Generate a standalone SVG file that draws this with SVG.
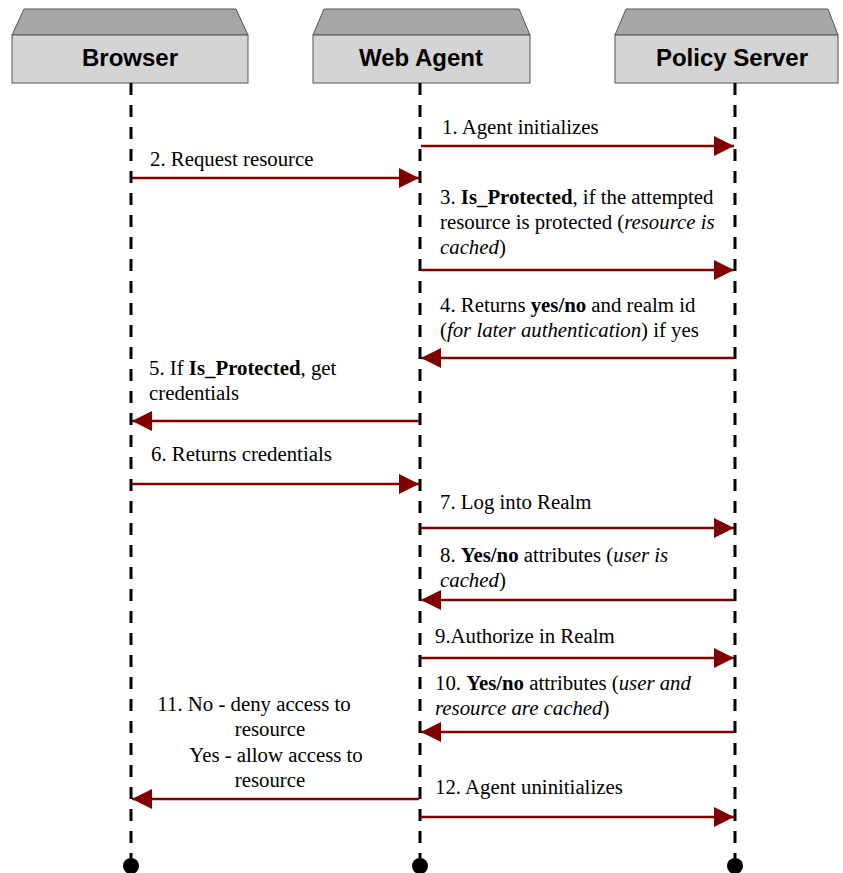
<svg xmlns="http://www.w3.org/2000/svg" width="843" height="873" viewBox="0 0 843 873">
<style>
.hdr-top{fill:#a6a6a6;stroke:#555;stroke-width:1}
.hdr-box{fill:#d4d4d4;stroke:#555;stroke-width:1}
.hdr-txt{font-family:"Liberation Sans",Arial,sans-serif;font-weight:bold;font-size:24px;fill:#000;text-anchor:middle}
.life{stroke:#000;stroke-width:3;stroke-dasharray:12 10;fill:none}
.end{fill:#000}
.msg{stroke:#800000;stroke-width:2.5;fill:none;marker-end:url(#ah)}
.lbl{font-family:"Liberation Serif","Times New Roman",serif;font-size:20.8px;fill:#000}
.c{text-anchor:middle}
.b{font-weight:bold}
.i{font-style:italic}
</style>
<defs>
<marker id="ah" markerUnits="userSpaceOnUse" markerWidth="22" markerHeight="20" refX="20" refY="10" orient="auto">
<path d="M0,0 L20,10 L0,20 Z" fill="#800000"/>
</marker>
</defs>
<g id="browser">
<path class="hdr-top" d="M12,35 L24,9 L236,9 L248,35 Z"/>
<rect class="hdr-box" x="12" y="35" width="236" height="48"/>
<text class="hdr-txt" x="130" y="66">Browser</text>
<line class="life" x1="131" y1="83" x2="131" y2="858"/>
<circle class="end" cx="131" cy="866" r="8"/>
</g>
<g id="webagent">
<path class="hdr-top" d="M313,35 L324,9 L519,9 L530,35 Z"/>
<rect class="hdr-box" x="313" y="35" width="217" height="48"/>
<text class="hdr-txt" x="421" y="66">Web Agent</text>
<line class="life" x1="420" y1="83" x2="420" y2="858"/>
<circle class="end" cx="420" cy="866" r="8"/>
</g>
<g id="policyserver">
<path class="hdr-top" d="M615,35 L626,9 L828,9 L838,35 Z"/>
<rect class="hdr-box" x="615" y="35" width="223" height="48"/>
<text class="hdr-txt" x="732" y="66">Policy Server</text>
<line class="life" x1="735" y1="83" x2="735" y2="858"/>
<circle class="end" cx="735" cy="866" r="8"/>
</g>
<g id="connectors">
<line class="msg" x1="421" y1="146" x2="734" y2="146"/>
<line class="msg" x1="132" y1="178" x2="419" y2="178"/>
<line class="msg" x1="421" y1="270" x2="734" y2="270"/>
<line class="msg" x1="734" y1="358" x2="421" y2="358"/>
<line class="msg" x1="419" y1="421" x2="132" y2="421"/>
<line class="msg" x1="132" y1="484" x2="419" y2="484"/>
<line class="msg" x1="421" y1="528" x2="734" y2="528"/>
<line class="msg" x1="734" y1="600" x2="421" y2="600"/>
<line class="msg" x1="421" y1="658" x2="734" y2="658"/>
<line class="msg" x1="734" y1="732" x2="421" y2="732"/>
<line class="msg" x1="419" y1="799" x2="132" y2="799"/>
<line class="msg" x1="421" y1="817" x2="734" y2="817"/>
</g>
<g id="labels">
<text class="lbl" x="442" y="134">1. Agent initializes</text>
<text class="lbl" x="150" y="166">2. Request resource</text>
<text class="lbl" x="440" y="204">3. <tspan class="b">Is_Protected</tspan>, if the attempted</text>
<text class="lbl" x="440" y="229">resource is protected (<tspan class="i">resource is</tspan></text>
<text class="lbl" x="440" y="254"><tspan class="i">cached</tspan>)</text>
<text class="lbl" x="440" y="312">4. Returns <tspan class="b">yes/no</tspan> and realm id</text>
<text class="lbl" x="440" y="337">(<tspan class="i">for later authentication</tspan>) if yes</text>
<text class="lbl" x="149" y="375">5. If <tspan class="b">Is_Protected</tspan>, get</text>
<text class="lbl" x="149" y="400">credentials</text>
<text class="lbl" x="151" y="461">6. Returns credentials</text>
<text class="lbl" x="440" y="509">7. Log into Realm</text>
<text class="lbl" x="440" y="562">8. <tspan class="b">Yes/no</tspan> attributes (<tspan class="i">user is</tspan></text>
<text class="lbl" x="440" y="587"><tspan class="i">cached</tspan>)</text>
<text class="lbl" x="435" y="643">9.Authorize in Realm</text>
<text class="lbl" x="435" y="690">10. <tspan class="b">Yes/no</tspan> attributes (<tspan class="i">user and</tspan></text>
<text class="lbl" x="435" y="715"><tspan class="i">resource are cached</tspan>)</text>
<text class="lbl c" x="254" y="711">11. No - deny access to</text>
<text class="lbl c" x="270" y="736">resource</text>
<text class="lbl c" x="276" y="762">Yes - allow access to</text>
<text class="lbl c" x="270" y="787">resource</text>
<text class="lbl" x="435" y="794">12. Agent uninitializes</text>
</g>
</svg>
